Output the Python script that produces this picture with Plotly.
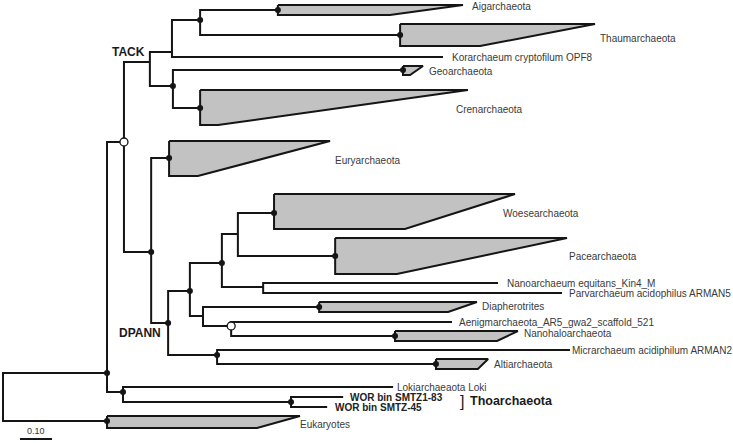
import plotly.graph_objects as go

# tree nodes: parent index, depth from root (substitutions/site), row position
node_parent = [-1, 0, 0, 1, 1, 4, 4, 6, 6, 3,
               9, 10, 11, 11, 10, 9, 15, 15, 3, 18,
               18, 20, 21, 22, 23, 23, 22, 26, 26, 21,
               29, 29, 31, 31, 20, 34, 34]
node_depth = [0.0, 0.325, 0.325, 0.378, 0.375, 1.219, 0.9, 1.063, 1.013, 0.459,
              0.528, 0.616, 0.859, 1.241, 1.375, 0.531, 1.25, 0.616, 0.463, 0.519,
              0.516, 0.584, 0.684, 0.734, 0.847, 1.038, 0.813, 1.547, 1.747, 0.625,
              0.988, 0.713, 1.403, 1.225, 0.669, 1.772, 1.353]
node_row = [396, 373, 421, 142, 392, 387, 402, 397, 407, 62,
            52, 20, 10, 35, 57, 86, 70, 108, 252, 158,
            323, 291, 263, 234, 213, 256, 287, 283, 293, 316,
            307, 326, 322, 336, 355, 350, 364]
# support: 1 = strong (filled), 2 = weak (open), 0 = none
node_support = [0, 1, 1, 2, 1, 0, 1, 0, 0, 0,
                0, 1, 1, 1, 0, 1, 1, 1, 1, 1,
                1, 1, 1, 0, 1, 1, 0, 0, 0, 0,
                1, 2, 0, 1, 1, 0, 1]

# collapsed clades: node index, top row, bottom row, tip depth, bottom depth
clade_node = [2, 12, 13, 16, 17, 19, 24, 25, 30, 33, 36]
clade_top = [416, 5, 24, 66, 90, 141, 194, 238, 302, 331, 359]
clade_bottom = [428, 15, 46, 75, 125, 176, 229, 274, 312, 341, 369]
clade_tip = [0.928, 1.4375, 1.85, 1.3125, 1.453, 1.022, 1.6, 1.7625, 1.481, 1.609, 1.516]
clade_bend = [0.794, 1.209, 1.491, 1.272, 0.672, 0.609, 1.256, 1.231, 1.391, 1.544, 1.484]

# tip labels
label_text = ["Aigarchaeota", "Thaumarchaeota", "Korarchaeum cryptofilum OPF8",
              "Geoarchaeota", "Crenarchaeota", "Euryarchaeota", "Woesearchaeota",
              "Pacearchaeota", "Nanoarchaeum equitans_Kin4_M",
              "Parvarchaeum acidophilus ARMAN5", "Diapherotrites",
              "Aenigmarchaeota_AR5_gwa2_scaffold_521", "Nanohaloarchaeota",
              "Micrarchaeum acidiphilum ARMAN2", "Altiarchaeota", "Lokiarchaeaota Loki",
              "WOR bin SMTZ1-83", "WOR bin SMTZ-45", "Eukaryotes"]
label_depth = [1.459, 1.859, 1.397, 1.325, 1.409, 1.031, 1.556, 1.7625, 1.569,
               1.7625, 1.49, 1.419, 1.622, 1.772, 1.528, 1.225, 1.078, 1.031, 0.922]
label_row = [6, 38, 57, 71, 109, 160, 213, 256, 283, 293, 306, 322, 333, 350, 364,
             387, 397, 407, 424]
label_bold = [False] * 16 + [True, True, False]

group_text = ["TACK", "DPANN"]
group_depth = [0.450, 0.500]
group_row = [52, 333]

scale_length = 0.10

INK = "#151515"
FILL = "#c2c2c2"
FONT = "Liberation Sans, Arial, sans-serif"

fig = go.Figure()

# clade wedges
for i, n in enumerate(clade_node):
    d = node_depth[n]
    fig.add_trace(go.Scatter(
        x=[d, clade_tip[i], clade_bend[i], d, d],
        y=[clade_top[i], clade_top[i], clade_bottom[i], clade_bottom[i], clade_top[i]],
        mode="lines", fill="toself", fillcolor=FILL,
        line=dict(color=INK, width=2), hoverinfo="skip", showlegend=False,
    ))

# branches: one bracket per internal node
xs, ys = [], []
for p in range(len(node_parent)):
    kids = [k for k, q in enumerate(node_parent) if q == p]
    if not kids:
        continue
    kids.sort(key=lambda k: node_row[k])
    a, b = kids[0], kids[-1]
    xs += [node_depth[a], node_depth[p], node_depth[p], node_depth[b], None]
    ys += [node_row[a], node_row[a], node_row[b], node_row[b], None]
fig.add_trace(go.Scatter(x=xs, y=ys, mode="lines",
                         line=dict(color=INK, width=2),
                         hoverinfo="skip", showlegend=False))

# support markers
strong = [i for i, s in enumerate(node_support) if s == 1]
weak = [i for i, s in enumerate(node_support) if s == 2]
fig.add_trace(go.Scatter(
    x=[node_depth[i] for i in strong], y=[node_row[i] for i in strong],
    mode="markers", marker=dict(size=6, color=INK),
    hoverinfo="skip", showlegend=False,
))
fig.add_trace(go.Scatter(
    x=[node_depth[i] for i in weak], y=[node_row[i] for i in weak],
    mode="markers", marker=dict(size=8, color="white", line=dict(color=INK, width=1.3)),
    hoverinfo="skip", showlegend=False,
))

# scale bar
fig.add_trace(go.Scatter(x=[0.053, 0.053 + scale_length], y=[439, 439], mode="lines",
                         line=dict(color=INK, width=2), hoverinfo="skip",
                         showlegend=False))
fig.add_annotation(x=0.053 + scale_length / 2, y=431, text=f"{scale_length:.2f}",
                   showarrow=False, font=dict(family=FONT, size=9, color="#333333"))

for t, d, r, b in zip(label_text, label_depth, label_row, label_bold):
    fig.add_annotation(
        x=d, y=r, text=f"<b>{t}</b>" if b else t, showarrow=False,
        xanchor="left", yanchor="middle",
        font=dict(family=FONT, size=10, color="#222222" if b else "#3a3a3a"),
    )

for t, d, r in zip(group_text, group_depth, group_row):
    fig.add_annotation(x=d, y=r, text=f"<b>{t}</b>", showarrow=False,
                       xanchor="right", yanchor="middle",
                       font=dict(family=FONT, size=12, color="#1a1a1a"))

fig.add_annotation(x=1.421, y=401, text="]", showarrow=False,
                   xanchor="left", yanchor="middle",
                   font=dict(family=FONT, size=16, color="#1a1a1a"))
fig.add_annotation(x=1.453, y=401, text="<b>Thoarchaeota</b>", showarrow=False,
                   xanchor="left", yanchor="middle",
                   font=dict(family=FONT, size=12.5, color="#1a1a1a"))

fig.update_layout(
    width=733, height=443,
    margin=dict(l=0, r=0, t=0, b=0),
    plot_bgcolor="white", paper_bgcolor="white",
    xaxis=dict(range=[-3 / 320, 730 / 320], visible=False, fixedrange=True),
    yaxis=dict(range=[443, 0], visible=False, fixedrange=True),
)

# drop the page's default body margin so the figure sits at the window corner
fig.write_html("out.html", config={"displayModeBar": False},
               post_script="document.body.style.margin='0px';")
